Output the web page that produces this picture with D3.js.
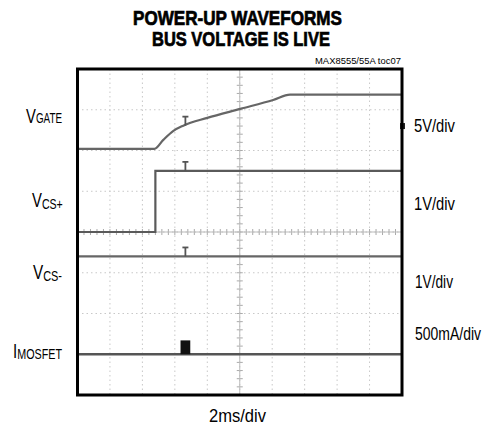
<!DOCTYPE html>
<html><head><meta charset="utf-8">
<script src="https://cdn.jsdelivr.net/npm/d3@7"></script>
<style>html,body{margin:0;padding:0;background:#fff;}svg{display:block;}</style>
</head><body>
<script>
// ---- data (time in ms, level in scope divisions from centre) ----
const timeDomainMs = [0, 20];
const levelDomainDiv = [-4, 4];
const gridTimeMs = [0, 2, 4, 6, 8, 10, 12, 14, 16, 18, 20];
const gridLevelDiv = [-4, -3, -2, -1, 0, 1, 2, 3, 4];

const vgateTimeMs = [0, 4.74, 5.29, 5.91, 6.52, 8.0, 10.03, 12.06, 13.1, 20];
const vgateLevelDiv = [2.04, 2.04, 2.26, 2.48, 2.61, 2.80, 3.02, 3.24, 3.37, 3.37];

const vcsPlusTimeMs = [0, 4.8, 4.8, 20];
const vcsPlusLevelDiv = [0, 0, 1.5, 1.5];

const vcsMinusTimeMs = [0, 20];
const vcsMinusLevelDiv = [-0.6, -0.6];

const imosfetTimeMs = [0, 20];
const imosfetLevelDiv = [-3.0, -3.0];
const imosfetPulseMs = [6.35, 6.95];
const imosfetPulseDiv = [-3.0, -2.66];

const triggerTimeMs = 6.65;
const triggerLevels = [2.61, 1.5, -0.6];
const gateRefDiv = 2.6;

const leftLabels = [
  {main: "V", sub: "GATE"}, {main: "V", sub: "CS+"},
  {main: "V", sub: "CS-"}, {main: "I", sub: "MOSFET"}];
const rightLabels = ["5V/div", "1V/div", "1V/div", "500mA/div"];
const titleLines = ["POWER-UP WAVEFORMS", "BUS VOLTAGE IS LIVE"];
const noteText = "MAX8555/55A toc07";
const xAxisLabel = "2ms/div";

// ---- layout ----
const W = 486, H = 425;
const L = 77.5, R = 402, T = 69, B = 395;
const svg = d3.select("body").append("svg").attr("width", W).attr("height", H);
const x = d3.scaleLinear().domain(timeDomainMs).range([L, R]);
const y = d3.scaleLinear().domain(levelDomainDiv).range([B, T]);
const font = "'Liberation Sans', Arial, sans-serif";

// graticule
const g = svg.append("g");
g.selectAll("line.v").data(gridTimeMs.slice(1, -1)).enter().append("line")
  .attr("x1", d => x(d)).attr("x2", d => x(d)).attr("y1", T).attr("y2", B)
  .attr("stroke", "#c8c8c8").attr("stroke-width", 1).attr("stroke-dasharray", "1.5,3");
g.selectAll("line.h").data(gridLevelDiv.slice(1, -1)).enter().append("line")
  .attr("y1", d => y(d)).attr("y2", d => y(d)).attr("x1", L).attr("x2", R)
  .attr("stroke", "#c8c8c8").attr("stroke-width", 1).attr("stroke-dasharray", "1.5,3");
// minor ticks on centre axes
const minorT = d3.range(0, 20.01, 0.4);
const minorL = d3.range(-4, 4.01, 0.2);
g.selectAll("line.mt").data(minorT).enter().append("line")
  .attr("x1", d => x(d)).attr("x2", d => x(d)).attr("y1", y(0) - 3).attr("y2", y(0) + 3)
  .attr("stroke", "#aaa").attr("stroke-width", 1);
g.selectAll("line.ml").data(minorL).enter().append("line")
  .attr("y1", d => y(d)).attr("y2", d => y(d)).attr("x1", x(10) - 3).attr("x2", x(10) + 3)
  .attr("stroke", "#aaa").attr("stroke-width", 1);
g.append("line").attr("x1", x(10)).attr("x2", x(10)).attr("y1", T).attr("y2", B)
  .attr("stroke", "#bbb").attr("stroke-width", 1);
g.append("line").attr("x1", L).attr("x2", R).attr("y1", y(0)).attr("y2", y(0))
  .attr("stroke", "#bbb").attr("stroke-width", 1);

// traces
const lineCurve = d3.line().x(d => x(d[0])).y(d => y(d[1])).curve(d3.curveMonotoneX);
const lineLin = d3.line().x(d => x(d[0])).y(d => y(d[1]));
const zip = (a, b) => a.map((v, i) => [v, b[i]]);
svg.append("path").attr("d", lineCurve(zip(vgateTimeMs, vgateLevelDiv)))
  .attr("fill", "none").attr("stroke", "#666").attr("stroke-width", 2.2);
svg.append("path").attr("d", lineLin(zip(vcsPlusTimeMs, vcsPlusLevelDiv)))
  .attr("fill", "none").attr("stroke", "#5a5a5a").attr("stroke-width", 2.2);
svg.append("path").attr("d", lineLin(zip(vcsMinusTimeMs, vcsMinusLevelDiv)))
  .attr("fill", "none").attr("stroke", "#666").attr("stroke-width", 2.2);
svg.append("path").attr("d", lineLin(zip(imosfetTimeMs, imosfetLevelDiv)))
  .attr("fill", "none").attr("stroke", "#555").attr("stroke-width", 2.4);
svg.append("rect").attr("x", x(imosfetPulseMs[0])).attr("y", y(imosfetPulseDiv[1]))
  .attr("width", x(imosfetPulseMs[1]) - x(imosfetPulseMs[0]))
  .attr("height", y(imosfetPulseDiv[0]) - y(imosfetPulseDiv[1]))
  .attr("fill", "#111");

// trigger "T" markers
triggerLevels.forEach(lv => {
  const tx = x(triggerTimeMs), ty = y(lv);
  svg.append("line").attr("x1", tx).attr("x2", tx).attr("y1", ty - 9).attr("y2", ty)
    .attr("stroke", "#555").attr("stroke-width", 1.8);
  svg.append("line").attr("x1", tx - 3).attr("x2", tx + 3).attr("y1", ty - 9).attr("y2", ty - 9)
    .attr("stroke", "#555").attr("stroke-width", 1.8);
});
// reference marker on right edge
svg.append("rect").attr("x", R - 2).attr("y", y(gateRefDiv) - 3).attr("width", 5).attr("height", 6)
  .attr("fill", "#222");

// frame
svg.append("rect").attr("x", L).attr("y", T).attr("width", R - L).attr("height", B - T)
  .attr("fill", "none").attr("stroke", "#000").attr("stroke-width", 3);

// condensed text: natural text squeezed horizontally to a target width
function txt(parts, x0, x1, base, weight) {
  const t = svg.append("text").attr("x", 0).attr("y", 0)
    .attr("font-family", font).attr("font-weight", weight || "normal").attr("fill", "#000");
  parts.forEach(p => {
    t.append("tspan").text(p.s).attr("font-size", p.size).attr("dy", p.dy || 0);
  });
  const w = t.node().getBBox().width;
  const sx = (x1 - x0) / w;
  t.attr("transform", `translate(${x0},${base}) scale(${sx},1)`);
  return t;
}
// title
txt([{s: titleLines[0], size: 19.5}], 133, 342, 25, "bold").attr("stroke", "#000").attr("stroke-width", 0.7);
txt([{s: titleLines[1], size: 19.5}], 152, 330, 46, "bold").attr("stroke", "#000").attr("stroke-width", 0.7);
txt([{s: noteText, size: 9.5}], 315, 401, 64);

// left labels (main letter + subscript)
const leftPos = [[26, 62, 123, 14, 0], [32, 63, 207, 15, 1.5], [33, 62, 279, 15, 1.5], [13, 62, 358, 15, 1]];
leftLabels.forEach((lb, i) => {
  const p = leftPos[i];
  txt([{s: lb.main, size: 21}, {s: lb.sub, size: p[3], dy: p[4]}], p[0], p[1], p[2]);
});
// right labels
const rightPos = [[414, 455, 132], [414, 455, 210], [415, 453, 288], [415, 481, 340]];
rightLabels.forEach((s, i) => txt([{s: s, size: 18}], rightPos[i][0], rightPos[i][1], rightPos[i][2]));
// x label
txt([{s: xAxisLabel, size: 18}], 209, 266, 422);
</script>
</body></html>
